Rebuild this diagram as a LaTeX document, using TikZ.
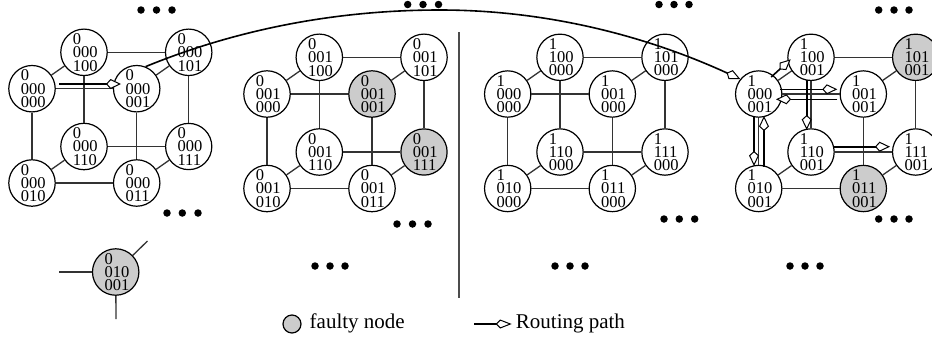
\documentclass[tikz,border=0pt]{standalone}
\usepackage{fontspec}
\setmainfont{Liberation Serif}
\usetikzlibrary{arrows.meta,calc}
\tikzset{
  hc/.style={circle,draw=black,line width=1.2pt,fill=white,minimum size=44pt,inner sep=0pt,align=left,
    font=\fontsize{16.5}{13.3}\selectfont},
  faulty/.style={hc,fill=black!20},
  edge/.style={draw=black!80,line width=1.3pt},
  route/.style={draw=black,line width=1.6pt,-{Kite[length=15pt,width=10pt,inset=4.5pt,fill=white,line width=1pt]}},
  dot/.style={circle,fill=black,minimum size=7.5pt,inner sep=0pt},
  legend/.style={inner sep=0pt,font=\fontsize{21}{23}\selectfont}
}
\newcommand{\lab}[3]{\hspace*{2.4pt}#1\\\hspace*{2.4pt}#2\\\hspace*{2.4pt}#3}
\begin{document}
\begin{tikzpicture}[x=1pt,y=-1pt]
\useasboundingbox (0,0) rectangle (932,341);
% cube A
\node[hc] (a000) at (32,88.7) {\lab{0}{000}{000}};
\node[hc] (a100) at (84,52.3) {\lab{0}{000}{100}};
\node[hc] (a001) at (136.7,88.7) {\lab{0}{000}{001}};
\node[hc] (a101) at (188.7,52.3) {\lab{0}{000}{101}};
\node[hc] (a110) at (84,146.5) {\lab{0}{000}{110}};
\node[hc] (a111) at (188.7,146.5) {\lab{0}{000}{111}};
\node[hc] (a010) at (32,183) {\lab{0}{000}{010}};
\node[hc] (a011) at (136.7,183) {\lab{0}{000}{011}};
% cube B
\node[hc] (b000) at (267,94) {\lab{0}{001}{000}};
\node[hc] (b100) at (319.3,57.3) {\lab{0}{001}{100}};
\node[faulty] (b001) at (372,94) {\lab{0}{001}{001}};
\node[hc] (b101) at (424,57.3) {\lab{0}{001}{101}};
\node[hc] (b110) at (319.3,152) {\lab{0}{001}{110}};
\node[faulty] (b111) at (424,152) {\lab{0}{001}{111}};
\node[hc] (b010) at (267,188.5) {\lab{0}{001}{010}};
\node[hc] (b011) at (372,188.5) {\lab{0}{001}{011}};
% cube C
\node[hc] (c000) at (507.7,94) {\lab{1}{000}{000}};
\node[hc] (c100) at (560,57.3) {\lab{1}{100}{000}};
\node[hc] (c001) at (612.3,94) {\lab{1}{001}{000}};
\node[hc] (c101) at (665,57.3) {\lab{1}{101}{000}};
\node[hc] (c110) at (560,152) {\lab{1}{110}{000}};
\node[hc] (c111) at (665,152) {\lab{1}{111}{000}};
\node[hc] (c010) at (507.7,188.5) {\lab{1}{010}{000}};
\node[hc] (c011) at (612.3,188.5) {\lab{1}{011}{000}};
% cube D
\node[hc] (d000) at (758.7,94) {\lab{1}{000}{001}};
\node[hc] (d100) at (811,57.3) {\lab{1}{100}{001}};
\node[hc] (d001) at (863.3,94) {\lab{1}{001}{001}};
\node[faulty] (d101) at (915.7,57.3) {\lab{1}{101}{001}};
\node[hc] (d110) at (811,152) {\lab{1}{110}{001}};
\node[hc] (d111) at (915.7,152) {\lab{1}{111}{001}};
\node[hc] (d010) at (758.7,188.5) {\lab{1}{010}{001}};
\node[faulty] (d011) at (863.3,188.5) {\lab{1}{011}{001}};
% cube edges
\foreach \c in {a,b,c,d}{
  \draw[edge] (\c000) -- (\c100);
  \draw[edge] (\c000) -- (\c001);
  \draw[edge] (\c000) -- (\c010);
  \draw[edge] (\c100) -- (\c101);
  \draw[edge] (\c100) -- (\c110);
  \draw[edge] (\c001) -- (\c101);
  \draw[edge] (\c001) -- (\c011);
  \draw[edge] (\c101) -- (\c111);
  \draw[edge] (\c110) -- (\c111);
  \draw[edge] (\c110) -- (\c010);
  \draw[edge] (\c010) -- (\c011);
  \draw[edge] (\c011) -- (\c111);
}
% lone faulty node
\node[faulty] (f) at (115.7,272) {\lab{0}{010}{001}};
\coordinate (fl) at (59,272);
\coordinate (fu) at (147.5,241);
\coordinate (fd) at (116,319);
\draw[edge] (f) -- (fl);
\draw[edge] (f) -- (fu);
\draw[edge] (f) -- (fd);
% divider
\coordinate (divt) at (459,32);
\coordinate (divb) at (459,298);
\draw[draw=black!70,line width=1.3pt] (divt) -- (divb);
% dots
\foreach \i/\x/\y in {1/141/10,2/156.5/10,3/172/10,4/167/213,5/182.3/213,6/198/213,
  7/407.7/4.5,8/423/4.5,9/438.5/4.5,10/397/224,11/412.5/224,12/428/224,
  13/659/4.5,14/674/4.5,15/689/4.5,16/664/219,17/679.3/219,18/694.7/219,
  19/878.7/10,20/894/10,21/909/10,22/878.7/219,23/894/219,24/909/219,
  25/315/266,26/330/266,27/345/266,28/555/266,29/570/266,30/585/266,
  31/790/266,32/805/266,33/820/266}{
  \node[dot] (dot\i) at (\x,\y) {};
}
% routing paths
\draw[route] ([shift={(27,-4.7)}]a000.center) -- ([shift={(-15.7,-4.7)}]a001.center);
\coordinate (k1) at (240,28);
\coordinate (k2) at (340,10);
\coordinate (k3) at (440,10);
\coordinate (k4) at (540,10);
\coordinate (k5) at (640,33);
\draw[route] (a001.68) .. controls (k1) and (k2) .. (k3) .. controls (k4) and (k5) .. (d000.141);
\draw[route] ([shift={(12.5,-17)}]d000.center) -- ([shift={(-20.3,2)}]d100.center);
\draw[route] ([shift={(21.3,-4.7)}]d000.center) -- ([shift={(-26,-4.7)}]d001.center);
\draw[route] ([shift={(-26,5.3)}]d001.center) -- ([shift={(17.3,5.3)}]d000.center);
\draw[route] ([shift={(-4.3,22.7)}]d100.center) -- ([shift={(-4.3,-22)}]d110.center);
\draw[route] ([shift={(-4.7,22)}]d000.center) -- ([shift={(-4.7,-22.5)}]d010.center);
\draw[route] ([shift={(5.3,-21.8)}]d010.center) -- ([shift={(5.3,22)}]d000.center);
\draw[route] ([shift={(22,-5.3)}]d110.center) -- ([shift={(-25.7,-5.3)}]d111.center);
% legend
\node[faulty,minimum size=18pt] (lg) at (292,324) {};
\node[legend,anchor=west] (lgt) at (309.5,323) {faulty node};
\coordinate (rs) at (474,324);
\node[legend,anchor=west] (rt) at (515.7,323) {Routing path};
\draw[route,-{Kite[length=16pt,width=9pt,inset=4.5pt,fill=white,line width=1pt]}] (rs) -- ([shift={(-4,1)}]rt.west);
\end{tikzpicture}
\end{document}
